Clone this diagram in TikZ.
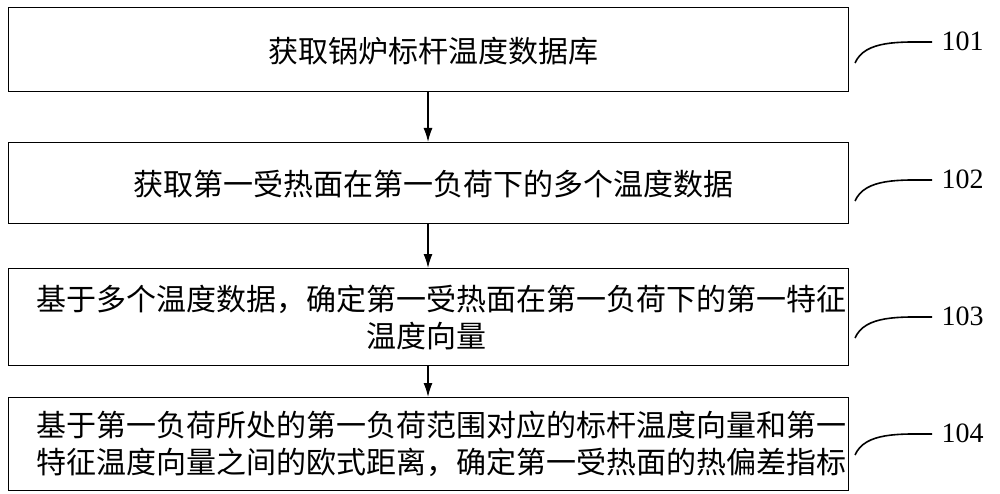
\documentclass[tikz,border=0pt]{standalone}
\usepackage{fontspec}
\setmainfont{Liberation Serif}
\newfontfamily\cjk{Noto Sans CJK SC}
\usetikzlibrary{arrows.meta}
\begin{document}
\begin{tikzpicture}[x=1pt,y=-1pt,
  stepbox/.style={draw,line width=1pt,anchor=north west,inner sep=0pt},
  lbl/.style={font=\fontsize{28}{30}\selectfont},
  txt/.style={font=\cjk\fontsize{30}{37}\selectfont,align=center},
  arr/.style={-{Latex[length=14pt,width=9pt]},line width=1.4pt}]
\useasboundingbox (0,0) rectangle (1000,494);
\node[stepbox,minimum width=840pt,minimum height=84pt] (b1) at (8,7) {};
\node[stepbox,minimum width=840pt,minimum height=81pt] (b2) at (8,142) {};
\node[stepbox,minimum width=840pt,minimum height=97pt] (b3) at (8,268) {};
\node[stepbox,minimum width=840pt,minimum height=93pt] (b4) at (8,397) {};
\node[txt] (t1) at (433,51) {获取锅炉标杆温度数据库};
\node[txt] (t2) at (433,184) {获取第一受热面在第一负荷下的多个温度数据};
\node[txt,align=left,anchor=west] (t3) at (33,317) {基于多个温度数据，确定第一受热面在第一负荷下的第一特征\\\hspace*{11em}温度向量};
\node[txt,align=left,anchor=west] (t4) at (33,444) {基于第一负荷所处的第一负荷范围对应的标杆温度向量和第一\\特征温度向量之间的欧式距离，确定第一受热面的热偏差指标};
\draw[arr] (b1.south -| 428,0) -- (b2.north -| 428,0);
\draw[arr] (b2.south -| 428,0) -- (b3.north -| 428,0);
\draw[arr] (b3.south -| 428,0) -- (b4.north -| 428,0);
\foreach \n/\y in {101/45,102/183,103/320,104/437}{
  \coordinate (c\n) at (855,\y+18);
  \coordinate (d\n) at (932,\y-3);
  \draw[line width=1.6pt] (c\n) .. controls (865,\y-5) and (900,\y-3) .. (d\n);
  \node[lbl,anchor=west] (l\n) at (938,\y-4) {\n};
}
\end{tikzpicture}
\end{document}
